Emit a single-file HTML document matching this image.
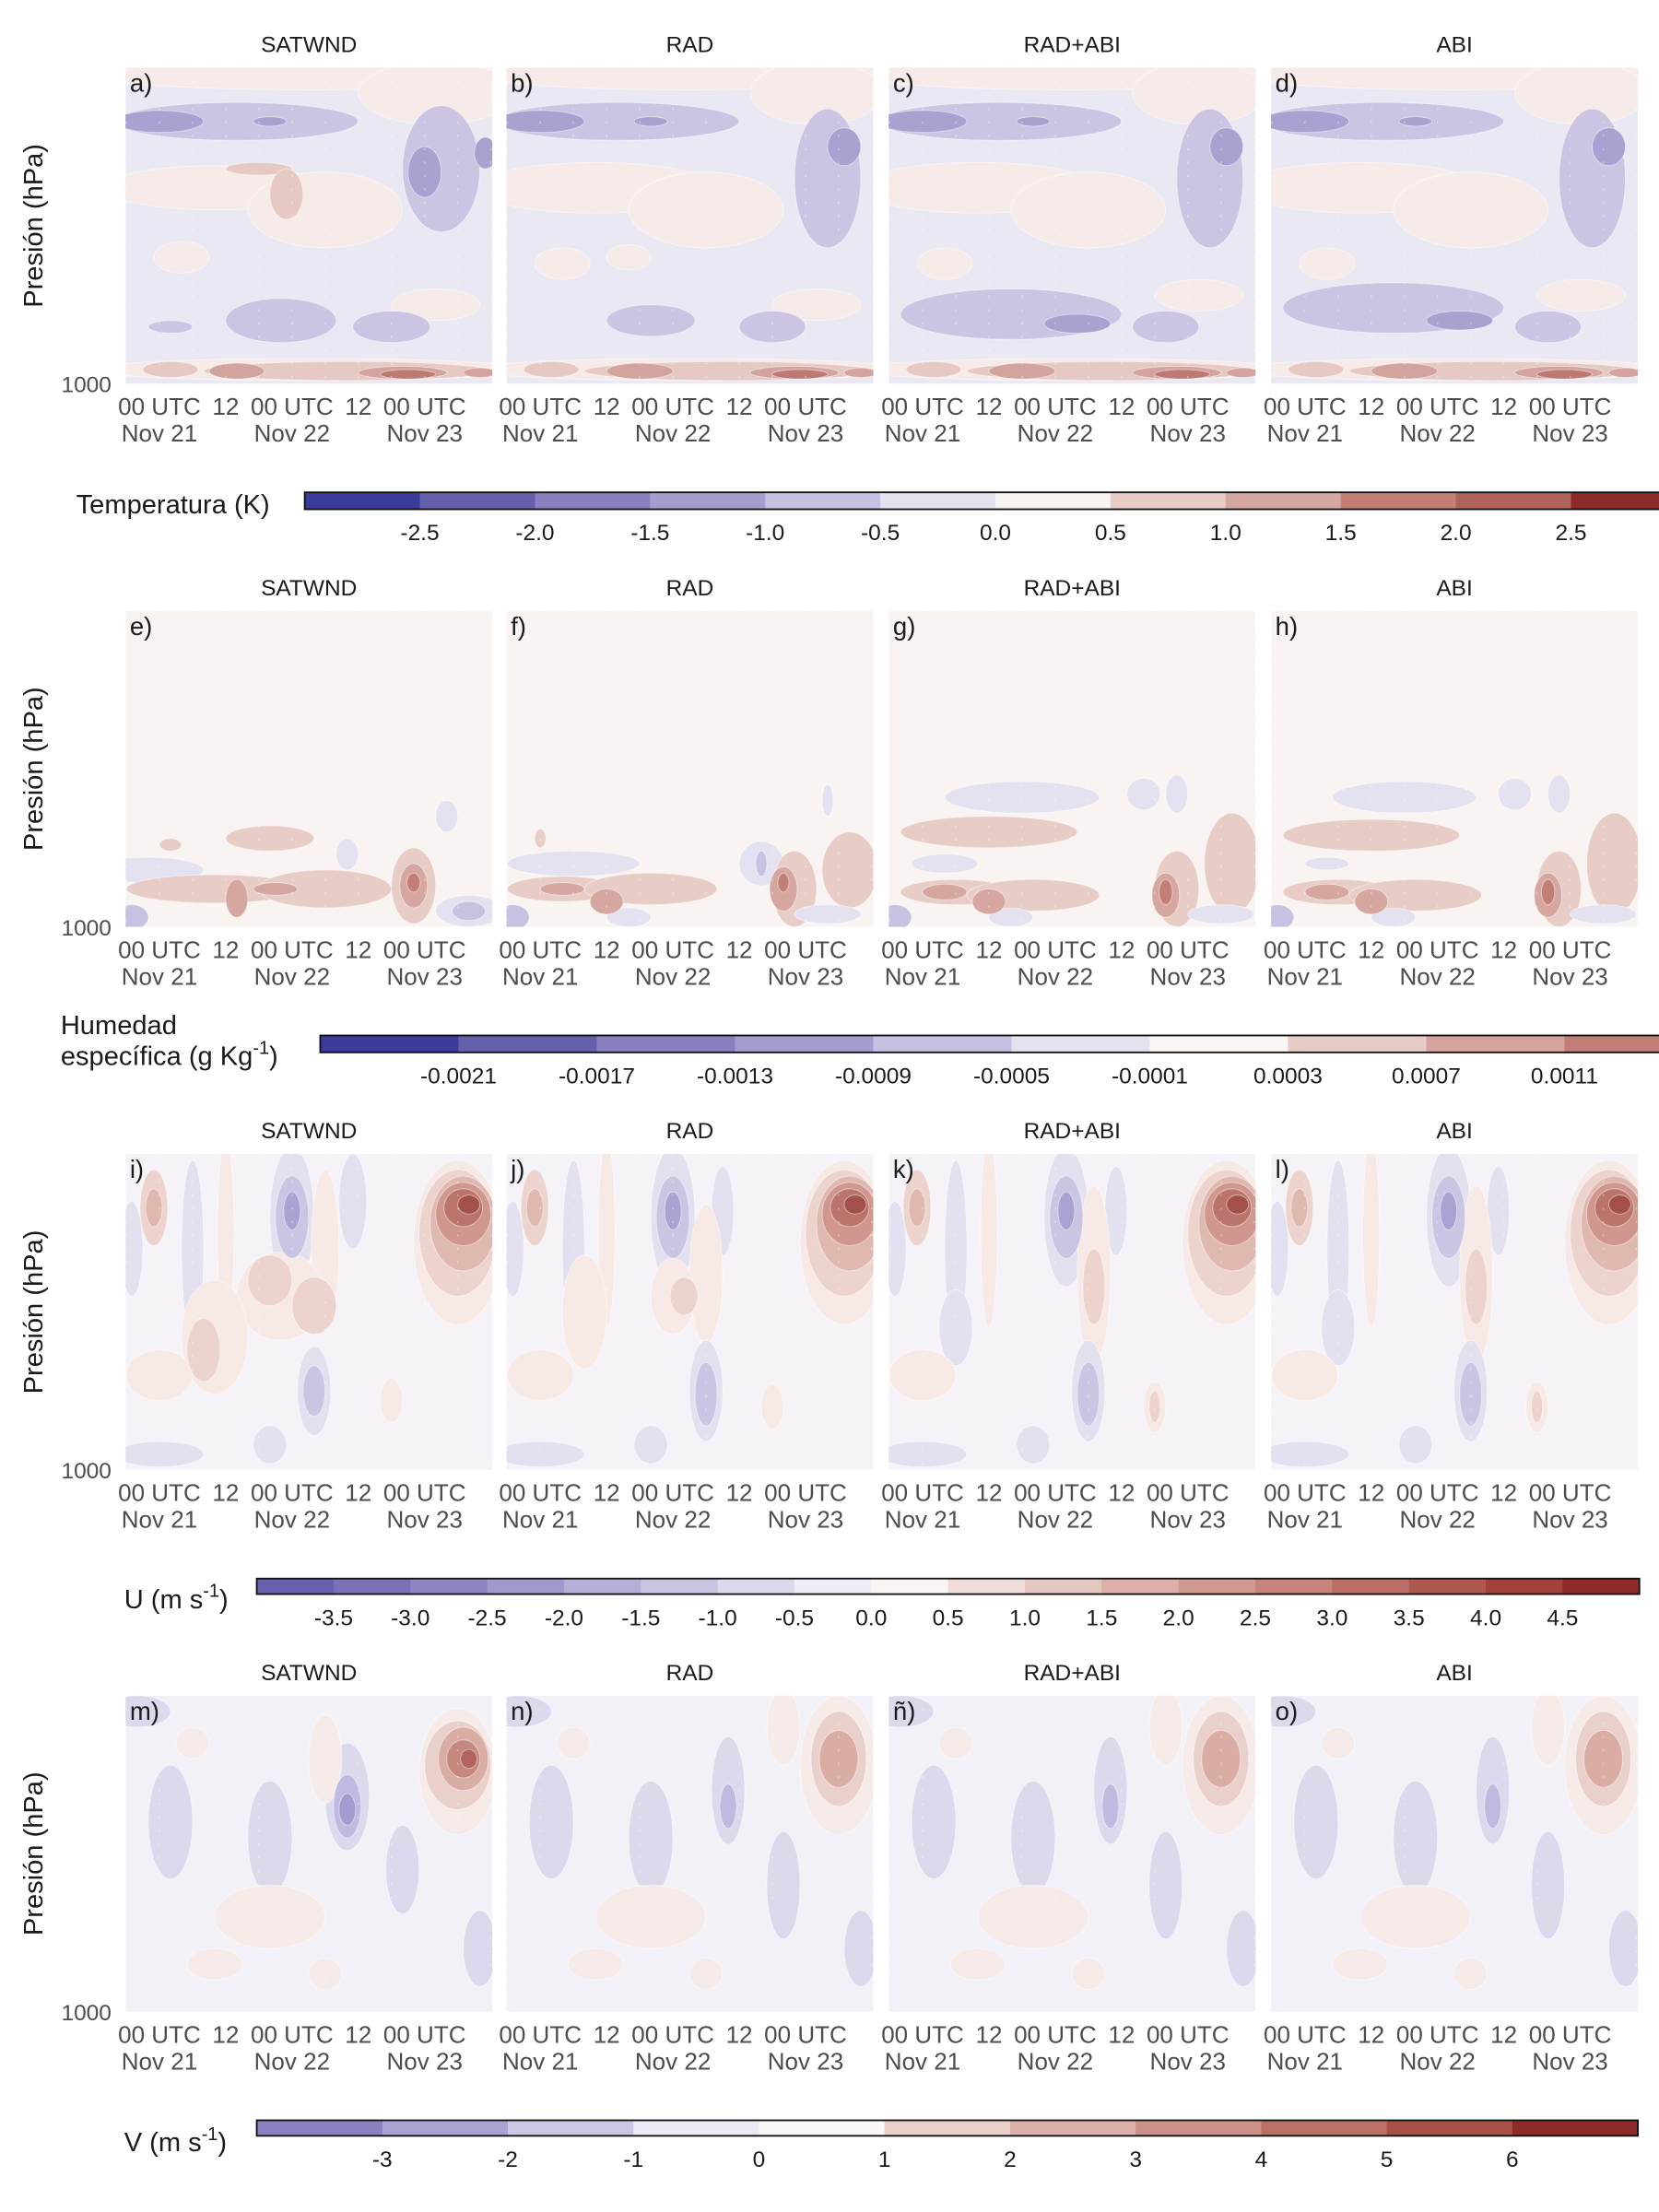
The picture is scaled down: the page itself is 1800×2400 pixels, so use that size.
<!DOCTYPE html>
<html><head><meta charset="utf-8"><style>
html,body{margin:0;padding:0;background:#fff}
svg{display:block;font-family:"Liberation Sans",sans-serif}
</style></head><body>
<svg id="fig" width="1800" height="2400" viewBox="0 0 1176 1568" xmlns="http://www.w3.org/2000/svg"></svg>
<script>
// ---- data ----
const panelTitles = ["SATWND","RAD","RAD+ABI","ABI"];
const panelLetters = [["a)","b)","c)","d)"],["e)","f)","g)","h)"],["i)","j)","k)","l)"],["m)","n)","ñ)","o)"]];
const xTickTop = ["00 UTC","12","00 UTC","12","00 UTC"];
const xTickHours = [0,12,24,36,48];
const xTickBottom = ["Nov 21","","Nov 22","","Nov 23"];
// blobs: [hour, pressure-fraction(0 top..1 bottom), half-width hours, half-height fraction, level]
const T_a = [[27,0.02,40,0.05,1],[50,0.08,14,0.1,1],[14,0.17,22,0.06,-1],[0,0.17,8,0.035,-2],[20,0.17,3,0.015,-2],[10,0.38,20,0.07,1],[30,0.45,14,0.12,1],[18,0.32,6,0.02,2],[23,0.4,3,0.08,2],[51,0.32,7,0.2,-1],[48,0.33,3,0.08,-2],[59,0.27,2,0.05,-2],[4,0.6,5,0.05,1],[50,0.75,8,0.05,1],[22,0.8,10,0.07,-1],[42,0.82,7,0.05,-1],[2,0.82,4,0.02,-1],[27,0.955,40,0.035,1],[34,0.96,26,0.03,2],[2,0.955,5,0.025,2],[14,0.96,5,0.025,3],[44,0.965,8,0.02,3],[45,0.97,5,0.015,4],[58,0.965,3,0.015,3]];
const T_b = [[27,0.02,40,0.05,1],[50,0.08,12,0.1,1],[14,0.17,22,0.06,-1],[0,0.17,8,0.035,-2],[20,0.17,3,0.015,-2],[10,0.38,22,0.08,1],[30,0.45,14,0.12,1],[16,0.6,4,0.04,1],[52,0.35,6,0.22,-1],[55,0.25,3,0.06,-2],[4,0.62,5,0.05,1],[50,0.75,8,0.05,1],[20,0.8,8,0.05,-1],[42,0.82,6,0.05,-1],[27,0.955,40,0.035,1],[34,0.96,26,0.03,2],[2,0.955,5,0.025,2],[18,0.96,6,0.025,3],[46,0.965,8,0.02,3],[47,0.97,5,0.015,4],[58,0.965,3,0.015,3]];
const T_c = [[27,0.02,40,0.05,1],[50,0.08,12,0.1,1],[14,0.17,22,0.06,-1],[0,0.17,8,0.035,-2],[20,0.17,3,0.015,-2],[10,0.38,22,0.08,1],[30,0.45,14,0.12,1],[52,0.35,6,0.22,-1],[55,0.25,3,0.06,-2],[4,0.62,5,0.05,1],[50,0.72,8,0.05,1],[16,0.78,20,0.08,-1],[28,0.81,6,0.03,-2],[44,0.82,6,0.05,-1],[27,0.955,40,0.035,1],[34,0.96,26,0.03,2],[2,0.955,5,0.025,2],[18,0.96,6,0.025,3],[46,0.965,8,0.02,3],[47,0.97,5,0.015,4],[58,0.965,3,0.015,3]];
const T_d = [[27,0.02,40,0.05,1],[50,0.08,12,0.1,1],[14,0.17,22,0.06,-1],[0,0.17,8,0.035,-2],[20,0.17,3,0.015,-2],[10,0.38,22,0.08,1],[30,0.45,14,0.12,1],[52,0.35,6,0.22,-1],[55,0.25,3,0.06,-2],[4,0.62,5,0.05,1],[50,0.72,8,0.05,1],[16,0.76,20,0.08,-1],[28,0.8,6,0.03,-2],[44,0.82,6,0.05,-1],[27,0.955,40,0.035,1],[34,0.96,26,0.03,2],[2,0.955,5,0.025,2],[18,0.96,6,0.025,3],[46,0.965,8,0.02,3],[47,0.97,5,0.015,4],[58,0.965,3,0.015,3]];
const Q_e = [[20,0.72,8,0.04,1],[2,0.74,2,0.02,1],[-2,0.82,10,0.04,-1],[52,0.65,2,0.05,-1],[34,0.77,2,0.05,-1],[10,0.88,16,0.045,1],[30,0.88,12,0.06,1],[46,0.87,4,0.12,1],[21,0.88,4,0.02,2],[14,0.91,2,0.06,2],[46,0.87,2.5,0.07,2],[46,0.86,1.2,0.03,3],[-5,0.97,3,0.04,-2],[56,0.95,6,0.05,-1],[56,0.95,3,0.03,-2]];
const Q_f = [[0,0.72,1,0.03,1],[6,0.8,12,0.04,-1],[40,0.8,4,0.07,-1],[40,0.8,1,0.04,-2],[52,0.6,1,0.05,-1],[4,0.88,10,0.04,1],[20,0.88,12,0.05,1],[46,0.88,4,0.12,1],[56,0.82,5,0.12,1],[4,0.88,4,0.02,2],[12,0.92,3,0.04,2],[44,0.88,2.5,0.07,2],[44,0.86,1,0.03,3],[-5,0.97,3,0.04,-2],[16,0.97,4,0.03,-1],[52,0.96,6,0.03,-1]];
const Q_g = [[18,0.59,14,0.05,-1],[40,0.58,3,0.05,-1],[46,0.58,2,0.06,-1],[12,0.7,16,0.05,1],[4,0.8,6,0.03,-1],[6,0.89,10,0.04,1],[20,0.9,12,0.05,1],[46,0.88,4,0.12,1],[56,0.8,5,0.16,1],[4,0.89,4,0.025,2],[12,0.92,3,0.04,2],[44,0.9,2.5,0.07,2],[44,0.89,1.2,0.04,3],[-5,0.97,3,0.04,-2],[16,0.97,4,0.03,-1],[54,0.96,6,0.03,-1]];
const Q_h = [[18,0.59,13,0.05,-1],[38,0.58,3,0.05,-1],[46,0.58,2,0.06,-1],[12,0.71,16,0.05,1],[4,0.8,4,0.02,-1],[6,0.89,10,0.04,1],[20,0.9,12,0.05,1],[46,0.88,4,0.12,1],[56,0.8,5,0.16,1],[4,0.89,4,0.025,2],[12,0.92,3,0.04,2],[44,0.9,2.5,0.07,2],[44,0.89,1.2,0.04,3],[-5,0.97,3,0.04,-2],[16,0.97,4,0.03,-1],[54,0.96,6,0.03,-1]];
const U_i = [[-1,0.17,2.5,0.12,2],[-1,0.17,1.5,0.06,3],[-5,0.3,2,0.15,-1],[6,0.3,2,0.28,-1],[12,0.25,1.5,0.3,1],[24,0.2,4,0.22,-1],[24,0.2,3,0.13,-2],[24,0.18,1.5,0.06,-3],[30,0.3,2.5,0.25,1],[35,0.15,2.5,0.15,-1],[54,0.28,8,0.26,1],[54,0.25,7,0.2,2],[55,0.22,6,0.15,3],[55,0.19,5,0.1,4],[55,0.17,3.5,0.06,5],[56,0.16,2,0.03,6],[22,0.45,8,0.14,1],[20,0.4,4,0.08,2],[28,0.48,4,0.09,2],[10,0.58,6,0.18,1],[8,0.62,3,0.1,2],[0,0.7,6,0.08,1],[28,0.75,3,0.14,-1],[28,0.75,2,0.08,-2],[42,0.78,2,0.07,1],[20,0.92,3,0.06,-1],[0,0.95,8,0.04,-1]];
const U_j = [[-1,0.17,2.5,0.12,2],[-1,0.17,1.5,0.06,3],[-5,0.3,2,0.15,-1],[6,0.3,2,0.28,-1],[12,0.25,1.5,0.3,1],[24,0.2,4,0.22,-1],[24,0.2,3,0.13,-2],[24,0.18,1.5,0.06,-3],[33,0.18,2,0.14,-1],[30,0.38,3,0.22,1],[55,0.28,8,0.26,1],[55,0.25,7,0.2,2],[56,0.22,6,0.15,3],[56,0.19,5,0.1,4],[56,0.17,3.5,0.06,5],[57,0.16,2,0.03,6],[24,0.45,4,0.12,1],[26,0.45,2.5,0.06,2],[8,0.5,4,0.18,1],[0,0.7,6,0.08,1],[30,0.75,3,0.16,-1],[30,0.76,2,0.1,-2],[42,0.8,2,0.07,1],[20,0.92,3,0.06,-1],[0,0.95,8,0.04,-1]];
const U_k = [[-1,0.17,2.5,0.12,2],[-1,0.17,1.5,0.06,3],[-5,0.3,2,0.15,-1],[6,0.3,2,0.28,-1],[12,0.25,1.5,0.3,1],[26,0.2,4,0.22,-1],[26,0.2,3,0.13,-2],[26,0.18,1.5,0.06,-3],[35,0.18,2,0.14,-1],[31,0.38,3,0.28,1],[31,0.42,2,0.12,2],[55,0.28,8,0.26,1],[55,0.25,7,0.2,2],[56,0.22,6,0.15,3],[56,0.19,5,0.1,4],[56,0.17,3.5,0.06,5],[57,0.16,2,0.03,6],[6,0.55,3,0.12,-1],[0,0.7,6,0.08,1],[30,0.75,3,0.16,-1],[30,0.76,2,0.1,-2],[42,0.8,2,0.08,1],[42,0.8,1,0.05,2],[20,0.92,3,0.06,-1],[0,0.95,8,0.04,-1]];
const U_l = [[-1,0.17,2.5,0.12,2],[-1,0.17,1.5,0.06,3],[-5,0.3,2,0.15,-1],[6,0.3,2,0.28,-1],[12,0.25,1.5,0.3,1],[26,0.2,4,0.22,-1],[26,0.2,3,0.13,-2],[26,0.18,1.5,0.06,-3],[35,0.18,2,0.14,-1],[31,0.38,3,0.28,1],[31,0.42,2,0.12,2],[55,0.28,8,0.26,1],[55,0.25,7,0.2,2],[56,0.22,6,0.15,3],[56,0.19,5,0.1,4],[56,0.17,3.5,0.06,5],[57,0.16,2,0.03,6],[6,0.55,3,0.12,-1],[0,0.7,6,0.08,1],[30,0.75,3,0.16,-1],[30,0.76,2,0.1,-2],[42,0.8,2,0.08,1],[42,0.8,1,0.05,2],[20,0.92,3,0.06,-1],[0,0.95,8,0.04,-1]];
const V_m = [[-4,0.05,6,0.05,-1],[6,0.15,3,0.05,1],[2,0.4,4,0.18,-1],[20,0.45,4,0.18,-1],[34,0.32,4,0.17,-1],[34,0.35,2.5,0.1,-2],[34,0.36,1.5,0.05,-3],[54,0.24,7,0.2,1],[54,0.22,6,0.14,2],[55,0.2,4.5,0.1,3],[55,0.2,3,0.06,4],[56,0.2,1.5,0.03,5],[30,0.2,3,0.14,1],[44,0.55,3,0.14,-1],[20,0.7,10,0.1,1],[10,0.85,5,0.05,1],[30,0.88,3,0.05,1],[58,0.8,3,0.12,-1]];
const V_n = [[-4,0.05,6,0.05,-1],[6,0.15,3,0.05,1],[2,0.4,4,0.18,-1],[20,0.45,4,0.18,-1],[34,0.3,3,0.17,-1],[34,0.35,1.5,0.07,-2],[54,0.22,7,0.22,1],[54,0.2,5,0.15,2],[54,0.2,3.5,0.09,3],[44,0.1,3,0.12,1],[44,0.6,3,0.17,-1],[20,0.7,10,0.1,1],[10,0.85,5,0.05,1],[30,0.88,3,0.05,1],[58,0.8,3,0.12,-1]];
const V_o = [[-4,0.05,6,0.05,-1],[6,0.15,3,0.05,1],[2,0.4,4,0.18,-1],[20,0.45,4,0.18,-1],[34,0.3,3,0.17,-1],[34,0.35,1.5,0.07,-2],[54,0.22,7,0.22,1],[54,0.2,5,0.15,2],[54,0.2,3.5,0.09,3],[44,0.1,3,0.12,1],[44,0.6,3,0.17,-1],[20,0.7,10,0.1,1],[10,0.85,5,0.05,1],[30,0.88,3,0.05,1],[58,0.8,3,0.12,-1]];
const V_p = [[-4,0.05,6,0.05,-1],[6,0.15,3,0.05,1],[2,0.4,4,0.18,-1],[20,0.45,4,0.18,-1],[34,0.3,3,0.17,-1],[34,0.35,1.5,0.07,-2],[54,0.22,7,0.22,1],[54,0.2,5,0.15,2],[54,0.2,3.5,0.09,3],[44,0.1,3,0.12,1],[44,0.6,3,0.17,-1],[20,0.7,10,0.1,1],[10,0.85,5,0.05,1],[30,0.88,3,0.05,1],[58,0.8,3,0.12,-1]];
// colorbar values
const T_ticks = [-2.5,-2.0,-1.5,-1.0,-0.5,0.0,0.5,1.0,1.5,2.0,2.5];
const T_tickLabels = ["-2.5","-2.0","-1.5","-1.0","-0.5","0.0","0.5","1.0","1.5","2.0","2.5"];
const Q_ticks = [-0.0021,-0.0017,-0.0013,-0.0009,-0.0005,-0.0001,0.0003,0.0007,0.0011];
const Q_tickLabels = ["-0.0021","-0.0017","-0.0013","-0.0009","-0.0005","-0.0001","0.0003","0.0007","0.0011"];
const U_ticks = [-3.5,-3,-2.5,-2,-1.5,-1,-0.5,0,0.5,1,1.5,2,2.5,3,3.5,4,4.5];
const U_tickLabels = ["-3.5","-3.0","-2.5","-2.0","-1.5","-1.0","-0.5","0.0","0.5","1.0","1.5","2.0","2.5","3.0","3.5","4.0","4.5"];
const V_ticks = [-3,-2,-1,0,1,2,3,4,5,6];
const V_tickLabels = ["-3","-2","-1","0","1","2","3","4","5","6"];

const rows = [
 {y0:48, blobs:[T_a,T_b,T_c,T_d], bg:'#eae8f3', lv:{1:'#f6ebe8',2:'#e6c9c3',3:'#d3a49d',4:'#bd7a72',5:'#a6514b','-1':'#cbc5e3','-2':'#aaa1d1','-3':'#8c82c2'}},
 {y0:433, blobs:[Q_e,Q_f,Q_g,Q_h], bg:'#f9f4f1', lv:{1:'#e8cdc7',2:'#d6a7a0',3:'#c27f77','-1':'#e4e2f1','-2':'#c7c2e2','-3':'#a59dd0'}},
 {y0:818, blobs:[U_i,U_j,U_k,U_l], bg:'#f5f3f8', lv:{1:'#f7e9e6',2:'#ecd3cd',3:'#dfb8b0',4:'#cf978e',5:'#bb746b',6:'#a4504a','-1':'#e3e0ef','-2':'#cac5e3','-3':'#aaa2d2','-4':'#928ac5'}},
 {y0:1202, blobs:[V_m,V_n,V_o,V_p], bg:'#f3f1f8', lv:{1:'#f6ebe8',2:'#ead0cb',3:'#d9aca4',4:'#c6877e',5:'#b0645c','-1':'#dcd9ed','-2':'#c0bae0','-3':'#a49cd0'}}
];
const panelX = [89,359,630,901];
const PW = 260, PH = 224;
const NS = "http://www.w3.org/2000/svg";
const svg = document.getElementById('fig');
function el(tag, attrs, parent){const e=document.createElementNS(NS,tag);for(const k in attrs)e.setAttribute(k,attrs[k]);(parent||svg).appendChild(e);return e;}
function xScale(px,h){return px+24+h*47/12;}
function yScale(py,f){return py+f*PH;}
function txt(x,y,s,size,anchor,fill,parent){const t=el('text',{x:x,y:y,'font-size':size,'text-anchor':anchor||'middle',fill:fill||'#1a1a1a'},parent);t.textContent=s;return t;}

const defs = el('defs',{});
rows.forEach((row,ri)=>{
  const py=row.y0;
  const yl=txt(0,0,"Presión (hPa)",19,'middle','#1a1a1a');
  yl.setAttribute('transform',`translate(30,${py+PH/2}) rotate(-90)`);
  
  
  const t1000=txt(79,py+PH+6,"1000",16,'end','#4d4d4d');
  
  
  panelX.forEach((px,pi)=>{
    const cp=el('clipPath',{id:`cp${ri}${pi}`},defs);
    el('rect',{x:px,y:py,width:PW,height:PH},cp);
    const g=el('g',{'clip-path':`url(#cp${ri}${pi})`});
    
    
    el('rect',{x:px,y:py,width:PW,height:PH,fill:row.bg},g);
    const blobs=row.blobs[pi];
    const order=blobs.slice().sort((a,b)=>Math.abs(a[4])-Math.abs(b[4]));
    order.forEach(b=>{
      const cx=xScale(px,b[0]), cy=yScale(py,b[1]);
      const rx=b[2]*47/12, ry=b[3]*PH;
      const e=el('ellipse',{cx:cx,cy:cy,rx:rx,ry:ry,fill:row.lv[b[4]]||row.bg,stroke:'#ffffff','stroke-opacity':0.5,'stroke-width':0.6},g);
      
      
    });
    for(let h=-6;h<=60;h+=6){
      el('line',{x1:xScale(px,h),x2:xScale(px,h),y1:py,y2:py+PH,stroke:'#ffffff','stroke-opacity':0.35,'stroke-width':1,'stroke-dasharray':'1.5 8'},g);
    }
    const tt=txt(px+PW/2,py-11,panelTitles[pi],16,'middle','#1a1a1a');
    
    
    const lt=txt(px+3,py+17,panelLetters[ri][pi],18,'start','#1a1a1a');
    
    
    xTickHours.forEach((h,k)=>{
      const a=txt(xScale(px,h),py+PH+22,xTickTop[k],17,'middle','#4d4d4d');
      
      
      if(xTickBottom[k]){
        const b=txt(xScale(px,h),py+PH+41,xTickBottom[k],17,'middle','#4d4d4d');
        
        
      }
    });
  });
});

function colorbar(name,x0,pxPerUnit,vmin,binW,colors,y,h,ticks,labels){
  const g=el('g',{});
  
  
  const xs=v=>x0+(v-vmin)*pxPerUnit;
  colors.forEach((c,i)=>{
    el('rect',{x:xs(vmin+i*binW),y:y,width:binW*pxPerUnit+0.5,height:h,fill:c},g);
  });
  el('rect',{x:x0,y:y,width:colors.length*binW*pxPerUnit,height:h,fill:'none',stroke:'#111',"stroke-width":1.2},g);
  ticks.forEach((v,i)=>{
    const t=txt(xs(v),y+h+22,labels[i],16,'middle','#1a1a1a',g);
    
    
  });
}
colorbar('temperature-colorbar',216,163.2,-3,0.5,['#3b3b98','#6560ab','#8a7fbf','#a69ccf','#c6c0e1','#e6e3f1','#f8f2f0','#e8ccc6','#d6a6a0','#c48077','#b0625c','#8f2a2a'],349,12,T_ticks,T_tickLabels);
colorbar('humidity-colorbar',227,245000,-0.0025,0.0004,['#3b3b98','#6560ab','#8a7fbf','#a69ccf','#c6c0e1','#e6e3f1','#f9f5f2','#e8ccc6','#d4a39d','#c07e76'],734,12,Q_ticks,Q_tickLabels);
colorbar('u-wind-colorbar',182,108.9,-4,0.5,['#6760ad','#7a72b7','#8d85c1','#a199cc','#b5aed7','#c9c4e2','#dcd9ec','#efedf6','#faf5f3','#f0dcd8','#e6c6c0','#dcb0a8','#d19a91','#c6847b','#bb6e65','#ae5850','#a1423c','#8e2a2a'],1119,11,U_ticks,U_tickLabels);
colorbar('v-wind-colorbar',182,89,-4,1,['#8a82c0','#aaa3d1','#cbc6e3','#ebe9f4','#faf6f4','#ead0cb','#dbb0a8','#cb9087','#bb7067','#a84f48','#8e2a2a'],1503,11,V_ticks,V_tickLabels);

const l1=txt(54,364,"Temperatura (K)",19,'start');


const l2=txt(43,733,"Humedad",19,'start');


const l3=el('text',{x:43,y:755,'font-size':19,fill:'#1a1a1a'});
l3.innerHTML='específica (g Kg<tspan dy="-8" font-size="13">-1</tspan><tspan dy="8">)</tspan>';


const l4=el('text',{x:88,y:1140,'font-size':19,fill:'#1a1a1a'});
l4.innerHTML='U (m s<tspan dy="-8" font-size="13">-1</tspan><tspan dy="8">)</tspan>';


const l5=el('text',{x:88,y:1525,'font-size':19,fill:'#1a1a1a'});
l5.innerHTML='V (m s<tspan dy="-8" font-size="13">-1</tspan><tspan dy="8">)</tspan>';


</script>
</body></html>
